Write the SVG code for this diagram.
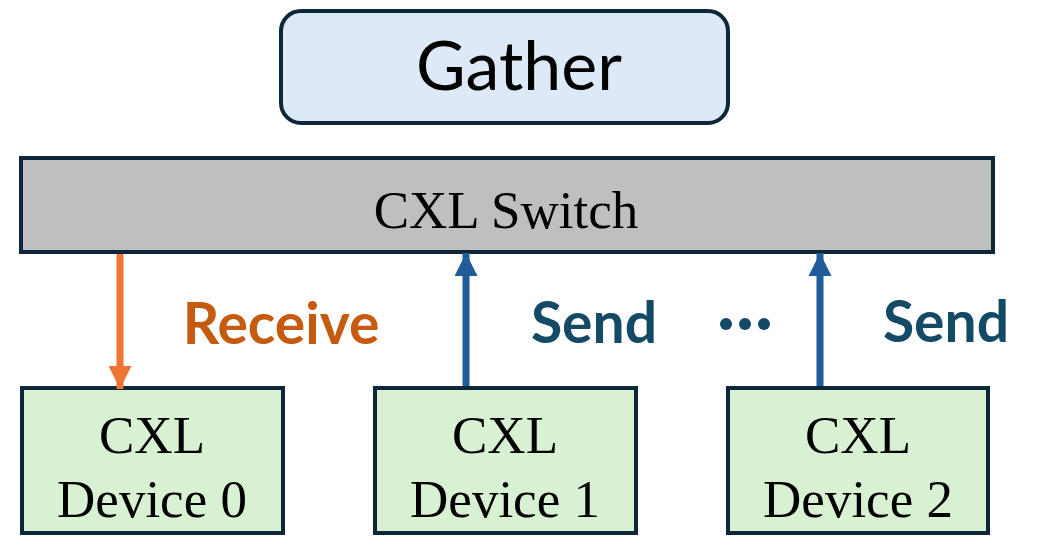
<svg xmlns="http://www.w3.org/2000/svg" width="1040" height="537" viewBox="0 0 1040 537">
  <style>
    .box { stroke: #0d2738; stroke-width: 4; }
    .dev { fill: #d9f1d3; }
    .serif { font-family: "Liberation Serif", "Times New Roman", serif; font-size: 53px; fill: #000; text-anchor: middle; }
    .label { font-family: "Lato", "Open Sans", sans-serif; font-weight: bold; font-size: 57px; text-anchor: middle; }
    .send { fill: #154a66; }
    .recv { fill: #c55a11; }
  </style>
  <defs>
    <marker id="headOrange" viewBox="0 0 10 10" refX="10" refY="5" markerUnits="userSpaceOnUse" markerWidth="23" markerHeight="23" orient="auto">
      <path d="M0,0 L10,5 L0,10 Z" fill="#ed7433"/>
    </marker>
    <marker id="headBlue" viewBox="0 0 10 10" refX="10" refY="5" markerUnits="userSpaceOnUse" markerWidth="23" markerHeight="23" orient="auto">
      <path d="M0,0 L10,5 L0,10 Z" fill="#1f5c99"/>
    </marker>
  </defs>

  <rect width="1040" height="537" fill="#fff"/>

  <g id="gather">
    <rect class="box" x="281" y="11" width="447" height="112" rx="20" fill="#dde9f6"/>
    <text x="519" y="90" font-family="Lato, 'Open Sans', sans-serif" font-size="68" text-anchor="middle" fill="#000">Gather</text>
  </g>

  <g id="cxl-switch">
    <rect class="box" x="21" y="158" width="972" height="94" fill="#bfbfbf"/>
    <text class="serif" x="506" y="228">CXL Switch</text>
  </g>

  <g id="device-0">
    <rect class="box dev" x="22" y="388" width="261" height="145"/>
    <text class="serif" x="152" y="453">CXL</text>
    <text class="serif" x="152" y="517">Device 0</text>
  </g>

  <g id="device-1">
    <rect class="box dev" x="375" y="388" width="261" height="145"/>
    <text class="serif" x="505" y="453">CXL</text>
    <text class="serif" x="505" y="517">Device 1</text>
  </g>

  <g id="device-2">
    <rect class="box dev" x="728" y="388" width="260" height="145"/>
    <text class="serif" x="858" y="453">CXL</text>
    <text class="serif" x="858" y="517">Device 2</text>
  </g>

  <g id="connectors">
    <line x1="120" y1="254" x2="120" y2="389" stroke="#ed7433" stroke-width="7" marker-end="url(#headOrange)"/>
    <line x1="466" y1="386" x2="466" y2="253" stroke="#1f5c99" stroke-width="7" marker-end="url(#headBlue)"/>
    <line x1="820" y1="386" x2="820" y2="253" stroke="#1f5c99" stroke-width="7" marker-end="url(#headBlue)"/>
  </g>

  <g id="labels">
    <text class="label recv" x="281" y="344">Receive</text>
    <text class="label send" x="594" y="343">Send</text>
    <text class="label send" x="946" y="342">Send</text>
    <g id="ellipsis" fill="#154a66">
      <circle cx="726" cy="324" r="6"/>
      <circle cx="745" cy="324" r="6"/>
      <circle cx="764" cy="324" r="6"/>
    </g>
  </g>
</svg>
